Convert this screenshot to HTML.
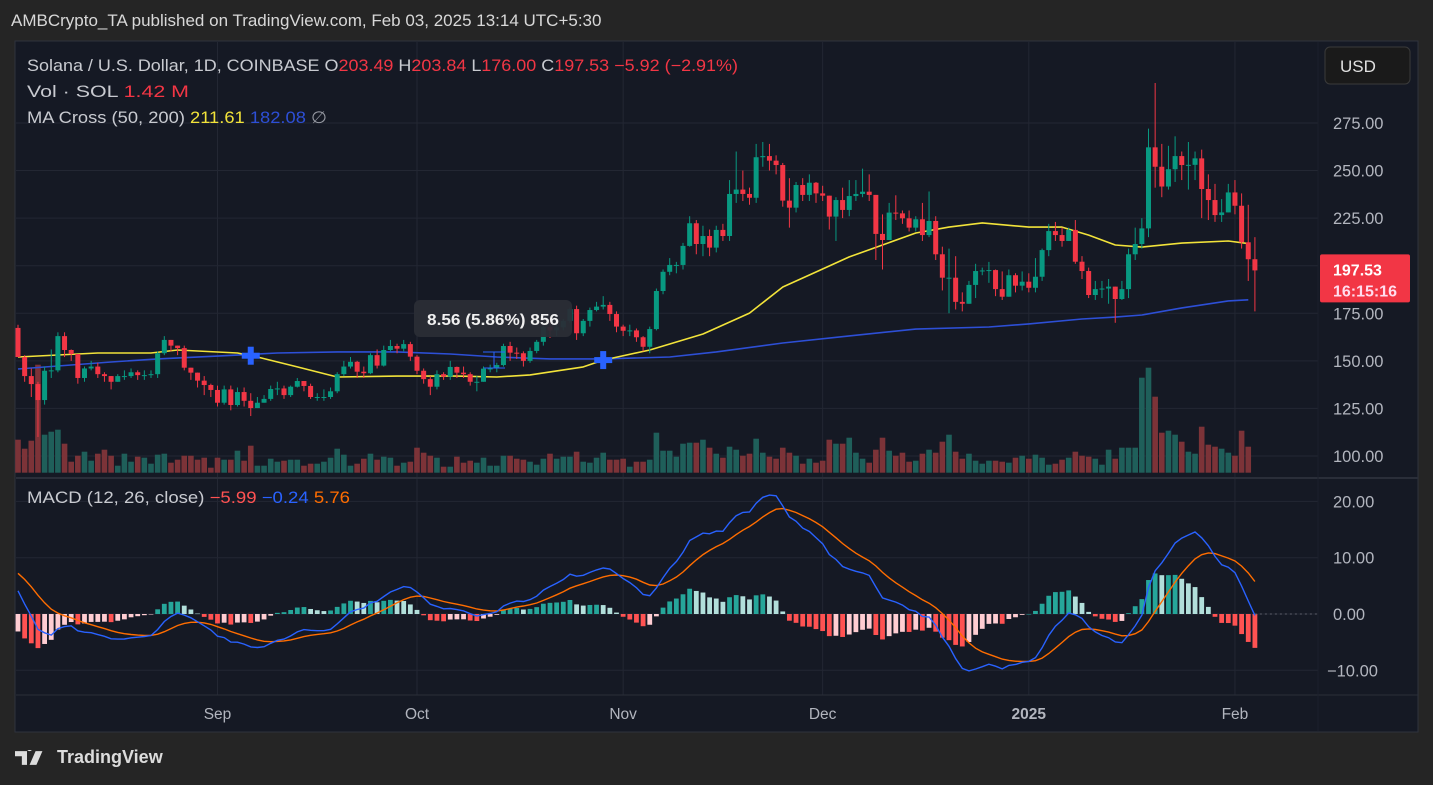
<!DOCTYPE html>
<html><head><meta charset="utf-8">
<style>
html,body{margin:0;padding:0;background:#252525;width:1433px;height:785px;overflow:hidden;font-family:"Liberation Sans",sans-serif;}
#hdr{position:absolute;left:11px;top:11px;color:#d8d8d8;font-size:17px;}
#chart{position:absolute;left:0;top:0;}
#logo{position:absolute;left:15px;top:747px;color:#dcdcdc;font-size:18px;font-weight:bold;display:flex;align-items:center;gap:6px;}
</style></head><body>
<div id="hdr">AMBCrypto_TA published on TradingView.com, Feb 03, 2025 13:14 UTC+5:30</div>
<svg id="chart" width="1433" height="785" xmlns="http://www.w3.org/2000/svg" font-family="Liberation Sans, sans-serif"></svg>
<div id="logo"><svg width="36" height="16" viewBox="0 0 42 18"><path d="M0 1h14v16h-6V7H0z M17 1a3 3 0 1 1 0.01 0z M24 1h8l-7 16h-8z" fill="#dcdcdc"/></svg><span>TradingView</span></div>
<script>
const closes=[152,142,137.8,129.4,144.8,145,163,155.7,153.6,141,146,147,143,142,139,142,142,144,142.5,142.5,143,154,161,158,156.7,146.4,143.8,139.6,137.3,134.7,128,135,126.8,133.6,129,125.2,128,130,135.2,135.5,132,136.4,139.4,136.8,131,131,131,134,143,147,149.5,144.3,143.5,153,147.5,155.7,157.8,156.4,158.8,152.2,144.8,140.4,136.4,143,141.7,146.8,143.8,143,139,139,145.9,146,147.8,157.8,154.3,154,150,155.2,160,167.8,166,167.6,171,177.2,164.5,171,176.7,178.5,179.4,174.6,168,165.8,166,162.4,157.4,166.7,186.7,196.8,200.4,200.4,210.4,222.3,211.4,215.6,209.5,218.8,215.6,237.7,240,237.7,235.7,257,257.6,255.2,252.9,234.2,230.5,242.4,237.2,243.6,238,236.8,225.8,234.5,229.3,236.6,237.7,238.9,237.2,216.7,213.5,227.9,227.5,224.9,220,224.4,216.1,223.5,206,193.7,193.7,181,180,189.9,197.2,197.5,197.7,187.7,183.7,195,189.5,191.6,188.4,194.2,208.2,218.2,216.1,213,218.8,202.1,197.2,184.6,187.7,188,189,182.5,187.7,206,211.4,219.6,262.2,252,241.6,250.7,257.6,252.9,253,256.4,240.3,234.5,226.6,228,238.5,231.5,212.3,203.4,197.53];
const firstOpen=167.3;
const highs=[169,153,146,139,147,156,165,165,156,153,147,150,149,144,142,143,145,146,145,145,145,155,163,161,158,158,146,142,142,138,137,137,137,136,136,133,131,132,137,139,137,137,141,139,138,133,135,136,144,150,152,150,147,154,156,158,161,159,161,160,153,146,142,145,144,150,147,147,144,142,147,148,149,159,160,157,155,157,161,169,173,170,172,178,179,172,178,181,184,181,176,169,169,167,163,168,188,198,204,202,212,226,224,221,219,221,222,245,260,250,241,264,265,264,258,254,246,244,246,248,244,242,236,236,241,245,245,251,248,227,227,233,237,229,229,226,233,239,226,210,209,205,186,192,201,199,202,198,197,198,196,197,196,204,209,222,223,220,220,224,205,199,192,192,193,171,192,209,220,225,272,296,264,263,268,260,265,260,261,248,243,235,243,245,238,232,215,203.84];
const lows=[152,139,131,110,127,141,144,152,150,138,139,145,141,139,135,139,140,141,140,140,141,141,153,155,153,145,140,136,132,131,126,127,124,126,126,121,126,128,129,132,130,131,136,134,130,129,129,130,133,142,146,141,141,143,146,147,155,154,155,150,143,138,132,135,140,140,141,141,137,134,139,144,144,147,150,151,147,149,154,158,162,163,166,170,161,163,168,176,177,171,165,163,163,160,155,154,166,185,195,196,198,210,206,205,205,207,213,213,233,234,232,233,252,250,248,231,220,228,234,234,233,234,219,213,225,226,234,236,234,203,198,214,224,222,218,218,213,215,203,187,175,177,176,180,183,195,191,184,182,186,186,187,186,186,192,205,213,210,213,201,193,183,182,183,180,170,182,183,203,209,215,241,236,240,244,245,240,245,225,224,223,223,229,227,209,192,176];
const volumes=[3.3,2.4,3.2,10.8,3.8,4.1,4.3,2.9,1.1,1.7,2.1,1.2,1.9,2.3,1.7,0.7,1.9,1.1,1.6,1.5,0.9,1.8,1.9,1.0,1.3,1.7,1.7,1.3,1.5,0.5,1.5,1.3,1.3,2.2,1.2,2.7,0.7,0.7,1.4,1.1,1.2,1.3,1.3,0.7,0.9,0.9,1.1,1.5,2.4,1.8,0.7,0.9,1.4,1.9,1.3,1.6,1.5,0.7,1.0,1.1,2.5,2.0,1.7,1.5,0.6,0.6,1.6,1.0,1.2,1.0,1.5,0.7,0.7,1.7,1.7,1.4,1.3,1.1,0.8,1.4,1.9,1.4,1.6,1.6,2.1,1.1,1.0,1.5,2.0,1.3,1.3,1.4,0.6,1.1,1.1,1.3,4.0,2.2,2.2,1.6,2.9,3.0,3.0,3.3,2.5,1.9,1.5,2.6,2.3,1.7,1.9,3.4,2.0,1.6,1.4,2.5,2.0,1.7,0.9,1.4,1.0,1.2,3.3,2.9,2.9,3.5,2.0,1.4,1.0,2.3,3.5,2.2,1.7,2.0,1.1,1.2,1.9,2.3,2.0,3.1,3.8,2.1,1.4,1.9,1.2,0.9,1.2,1.2,1.1,1.0,1.5,1.7,1.4,1.8,1.5,0.8,0.9,1.3,1.5,2.1,1.7,1.6,1.4,0.8,2.3,1.4,2.5,2.5,2.5,9.5,10.5,7.6,4.0,4.2,3.8,3.1,2.1,1.9,4.6,2.8,2.6,2.4,2.0,1.7,4.2,2.6];
const ma50Idx=[0,6,12,20,24,33,36,42,48,57,66,72,77,85,88,95,103,110,115,120,125,130,135,140,145,152,157,161,165,169,175,182,185];
const ma50Val=[152,153.1,154.1,154.1,155.7,154.1,152,146.8,141.5,142,142,141.5,142.6,146.8,150.4,155.7,164.1,175.1,188.8,196.7,204.6,210.9,217.2,220.3,222.5,220.3,220.3,216.1,210.9,209.8,211.9,213,211.61];
const ma200Idx=[0,6,14,21,30,39,48,57,65,72,80,88,98,105,115,125,135,146,152,160,165,169,175,182,185];
const ma200Val=[145.7,147.3,149.4,151,152.5,154.1,154.7,154.7,153.6,152,151,151,152,154.7,159.4,163.1,166.7,167.8,169.4,172,173,174.1,177.8,181.5,182.08];
const crossIdx=[35,88];
const priceTicks=[100,125,150,175,200,225,250,275];
const priceTickLabels=["100.00","125.00","150.00","175.00","","225.00","250.00","275.00"];
const macdTicks=[20,10,0,-10];
const macdTickLabels=["20.00","10.00","0.00","−10.00"];
const monthIdx=[30,60,91,121,152,183];
const monthLabels=["Sep","Oct","Nov","Dec","2025","Feb"];
const macdSeed=[170,164,8]; // initial EMA12, EMA26, signal

const S=document.getElementById('chart');
const NS='http://www.w3.org/2000/svg';
function mk(tag,attrs,parent){const e=document.createElementNS(NS,tag);for(const k in attrs)e.setAttribute(k,attrs[k]);(parent||S).appendChild(e);return e;}
const X=i=>18+i*6.65;
const Y=p=>456-(p-100)*1.903;
const YM=v=>614-v*5.63;
const YV=v=>472.7-v*10;

let f=mk('rect',{x:15,y:41,width:1403,height:691,fill:'#151924',stroke:'#2e323d'});

monthIdx.forEach(i=>{let l=mk('line',{x1:X(i),x2:X(i),y1:42,y2:695,stroke:'#232733'});});
priceTicks.forEach(p=>{let l=mk('line',{x1:16,x2:1318,y1:Y(p),y2:Y(p),stroke:'#232733'});});
macdTicks.forEach(v=>{let l=mk('line',{x1:16,x2:1318,y1:YM(v),y2:YM(v),stroke:'#232733'});});
let dv=mk('line',{x1:16,x2:1418,y1:478,y2:478,stroke:'#2a2e39',"stroke-width":2});
let da=mk('line',{x1:16,x2:1418,y1:695,y2:695,stroke:'#2a2e39'});
let pa=mk('line',{x1:1318,x2:1318,y1:42,y2:731,stroke:'#1c202b'});

const opens=closes.map((c,i)=>i===0?firstOpen:closes[i-1]);
volumes.forEach((v,i)=>{const up=closes[i]>=opens[i];let r=mk('rect',{x:X(i)-2.8,y:YV(v),width:5.6,height:v*10,fill:up?'#1f5f5a':'#7c3338'});});

function pl(idx,val,color,name){let d=idx.map((i,k)=>(k?'L':'M')+X(i).toFixed(1)+' '+Y(val[k]).toFixed(1)).join(' ');let p=mk('path',{d:d,fill:'none',stroke:color,'stroke-width':1.6,'stroke-linejoin':'round'});}
pl(ma200Idx,ma200Val,'#2d4fd6','ma200-line');
pl(ma50Idx,ma50Val,'#f2e33a','ma50-line');

closes.forEach((c,i)=>{const o=opens[i];const up=c>=o;const col=up?'#089981':'#f23645';const g=mk('g',{});
 mk('line',{x1:X(i),x2:X(i),y1:Y(Math.max(highs[i],o,c)),y2:Y(Math.min(lows[i],o,c)),stroke:col,'stroke-width':1},g);
 const t=Y(Math.max(o,c)),b=Y(Math.min(o,c));mk('rect',{x:X(i)-2.5,y:t,width:5,height:Math.max(1,b-t),fill:col},g);});

function interp(idx,val,i){for(let k=1;k<idx.length;k++){if(i<=idx[k]){const t=(i-idx[k-1])/(idx[k]-idx[k-1]);return val[k-1]+t*(val[k]-val[k-1]);}}return val[val.length-1];}
crossIdx.forEach(i=>{const cx=X(i),cy=Y(interp(ma50Idx,ma50Val,i));const g=mk('g',{fill:'#2962ff'});
 mk('rect',{x:cx-9,y:cy-3,width:18,height:6},g);mk('rect',{x:cx-3,y:cy-9,width:6,height:18},g);});

let tb=mk('rect',{x:414,y:300,width:158,height:37,rx:6,fill:'#2a2d36',opacity:0.95});
let tt=mk('text',{x:427,y:325,fill:'#f0f0f0','font-size':16,'font-weight':'bold',textLength:132,lengthAdjust:'spacingAndGlyphs'});tt.textContent='8.56 (5.86%) 856';
let mb=mk('path',{d:'M483 352H505M494 352V368M484 368H505',stroke:'#2962ff',fill:'none','stroke-width':1});

let e12=macdSeed[0],e26=macdSeed[1],sig=macdSeed[2];const macd=[],signal=[],hist=[];
closes.forEach(c=>{e12=e12+(c-e12)*2/13;e26=e26+(c-e26)*2/27;const m=e12-e26;sig=sig+(m-sig)*2/10;macd.push(m);signal.push(sig);hist.push(m-sig);});
hist.forEach((h,i)=>{const prev=i?hist[i-1]:h;let col=h>=0?(h>=prev?'#26a69a':'#b2dfdb'):(h<prev?'#ff5252':'#ffcdd2');const y0=YM(0),y1=YM(h);let r=mk('rect',{x:X(i)-2.4,y:Math.min(y0,y1),width:4.8,height:Math.max(0.5,Math.abs(y1-y0)),fill:col});});
function line(arr,color,name){let d=arr.map((v,i)=>(i?'L':'M')+X(i).toFixed(1)+' '+YM(v).toFixed(1)).join(' ');let p=mk('path',{d:d,fill:'none',stroke:color,'stroke-width':1.4});}
line(signal,'#ff6d00','macd-signal-line');
line(macd,'#2962ff','macd-line');
let zl=mk('line',{x1:X(186),x2:1318,y1:YM(0),y2:YM(0),stroke:'#5d606b','stroke-dasharray':'2 3'});

priceTicks.forEach((p,k)=>{if(!priceTickLabels[k])return;let t=mk('text',{x:1333,y:Y(p)+6,fill:'#b2b5be','font-size':16.5});t.textContent=priceTickLabels[k];});
macdTicks.forEach((v,k)=>{let t=mk('text',{x:v<0?1327:1333,y:YM(v)+6,fill:'#b2b5be','font-size':16.5});t.textContent=macdTickLabels[k];});
monthIdx.forEach((i,k)=>{let t=mk('text',{x:X(i),y:719,fill:'#b2b5be','font-size':15.5,'text-anchor':'middle','font-weight':monthLabels[k]==='2025'?'bold':'normal'});t.textContent=monthLabels[k];});

const last=closes[closes.length-1];
let lp=mk('rect',{x:1320,y:Y(last)-16,width:90,height:48,rx:2,fill:'#f23645'});
let lt=mk('text',{x:1333,y:Y(last)+5,fill:'#fff','font-size':16,'font-weight':'bold'});lt.textContent=last.toFixed(2);
let lc=mk('text',{x:1333,y:Y(last)+26,fill:'#fde','font-size':16,'font-weight':'bold'});lc.textContent='16:15:16';

let ub=mk('rect',{x:1325,y:47,width:85,height:37,rx:5,fill:'#1a1a1a',stroke:'#3a3a3a'});
let ut=mk('text',{x:1340,y:72,fill:'#e0e0e0','font-size':17});ut.textContent='USD';

function leg(x,y,len,parts,name){let t=mk('text',{x:x,y:y,'font-size':16.5,textLength:len,lengthAdjust:'spacingAndGlyphs'});parts.forEach(p=>{let s=mk('tspan',{fill:p[1]},t);s.textContent=p[0];});}
leg(27,71,711,[['Solana / U.S. Dollar, 1D, COINBASE  O','#c8cad0'],['203.49','#f23645'],['  H','#c8cad0'],['203.84','#f23645'],['  L','#c8cad0'],['176.00','#f23645'],['  C','#c8cad0'],['197.53','#f23645'],['  −5.92 (−2.91%)','#f23645']],'symbol-legend');
leg(27,97,162,[['Vol · SOL  ','#c8cad0'],['1.42 M','#f23645']],'volume-legend');
leg(27,123,300,[['MA Cross (50, 200)  ','#c8cad0'],['211.61','#f2e33a'],['  ','#c8cad0'],['182.08','#2d4fd6'],['  ∅','#9598a1']],'ma-cross-legend');
leg(27,503,323,[['MACD (12, 26, close)  ','#c8cad0'],['−5.99','#ff5252'],['  ','#c8cad0'],['−0.24','#2962ff'],['  ','#c8cad0'],['5.76','#ff6d00']],'macd-legend');
</script>
</body></html>
